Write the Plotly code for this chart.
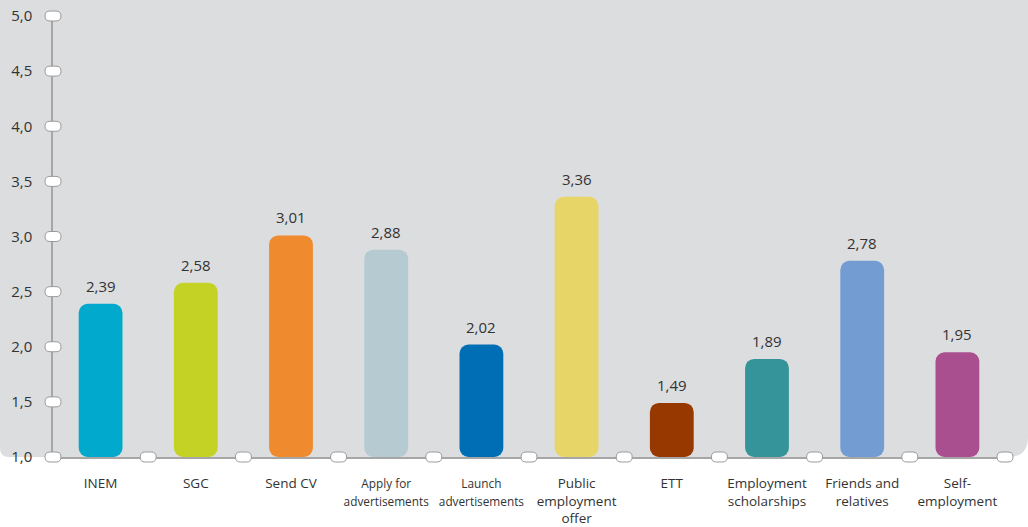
import plotly.graph_objects as go

# data
categories = ["INEM", "SGC", "Send CV", "Apply for advertisements", "Launch advertisements",
              "Public employment offer", "ETT", "Employment scholarships",
              "Friends and relatives", "Self-employment"]
tick_labels = ["INEM", "SGC", "Send CV",
               "<span style='font-size:11.8px'>Apply for<br>advertisements</span>",
               "<span style='font-size:11.8px'>Launch<br>advertisements</span>",
               "Public<br>employment<br>offer", "ETT", "Employment<br>scholarships",
               "Friends and<br>relatives", "Self-<br>employment"]
values = [2.39, 2.58, 3.01, 2.88, 2.02, 3.36, 1.49, 1.89, 2.78, 1.95]
colors = ["#01a9cc", "#c3d225", "#f08a2e", "#b5cbd1", "#006eb5",
          "#e7d667", "#973800", "#35939a", "#739dd2", "#a94f8f"]
y_ticks = [1.0, 1.5, 2.0, 2.5, 3.0, 3.5, 4.0, 4.5, 5.0]

Y_MIN, Y_MAX = 1.0, 5.0
BG = "#dcdddf"
AXIS = "#a6a6a6"
TEXT = "#333333"
FONT = "Open Sans"

fig = go.Figure()

# bars start at the axis floor (1,0); with an explicit base both ends get rounded
fig.add_trace(go.Bar(
    x=categories, y=[v - Y_MIN for v in values], base=[Y_MIN] * len(values),
    marker=dict(color=colors, cornerradius=9, line=dict(width=0)),
    width=0.46, showlegend=False,
    customdata=values, hovertemplate="%{x}: %{customdata:.2f}<extra></extra>"))

# value labels above the bars
for c, v in zip(categories, values):
    fig.add_annotation(x=c, y=v, text=f"{v:.2f}".replace(".", ","), showarrow=False,
                       yanchor="bottom", yshift=6,
                       font=dict(family=FONT, size=15, color=TEXT))

# grey panel with rounded bottom corners
L, R, T, B = -53 / 952, 975 / 952, 1.06, 0.0
rxl, ryl = 9 / 952, 9 / 441
rxr, ryr = 20 / 952, 20 / 441
panel = (f"M {L},{T} L {R},{T} L {R},{B + ryr} Q {R},{B} {R - rxr},{B} "
         f"L {L + rxl},{B} Q {L},{B} {L},{B + ryl} Z")
fig.add_shape(type="path", path=panel, xref="paper", yref="paper",
              fillcolor=BG, line=dict(width=0), layer="below")

# white pill markers on the axes
pill = "M -3,-5 L 3,-5 Q 8,-5 8,0 Q 8,5 3,5 L -3,5 Q -8,5 -8,0 Q -8,-5 -3,-5 Z"
def add_pill(xd, yd):
    fig.add_shape(type="path", path=pill, xref="x domain", yref="y domain",
                  xsizemode="pixel", ysizemode="pixel", xanchor=xd, yanchor=yd,
                  fillcolor="white", line=dict(color="#9a9a9a", width=1), layer="above")

for t in y_ticks:
    add_pill(0, (t - Y_MIN) / (Y_MAX - Y_MIN))
for k in range(1, len(categories) + 1):
    add_pill(k / len(categories), 0)

fig.update_layout(
    width=1028, height=527,
    margin=dict(l=53, r=23, t=16, b=70),
    paper_bgcolor="white", plot_bgcolor=BG,
    separators=",.",
    font=dict(family=FONT, color=TEXT),
)
fig.update_xaxes(
    tickvals=categories, ticktext=tick_labels, range=[-0.5, 9.5], automargin=False,
    showline=True, linecolor=AXIS, linewidth=1.5, showgrid=False, ticks="",
    tickfont=dict(family=FONT, size=13.5, color=TEXT), ticklabelstandoff=13)
fig.update_yaxes(
    range=[Y_MIN, Y_MAX], tickvals=y_ticks, tickformat=".1f", automargin=False,
    showline=True, linecolor=AXIS, linewidth=1.5, showgrid=False, zeroline=False, ticks="",
    tickfont=dict(family=FONT, size=15, color=TEXT), ticklabelstandoff=16)

# the page's default body margin would shift the fixed-size figure
fig.write_html("out.html", config={"displayModeBar": False},
               post_script="document.body.style.margin='0';")
